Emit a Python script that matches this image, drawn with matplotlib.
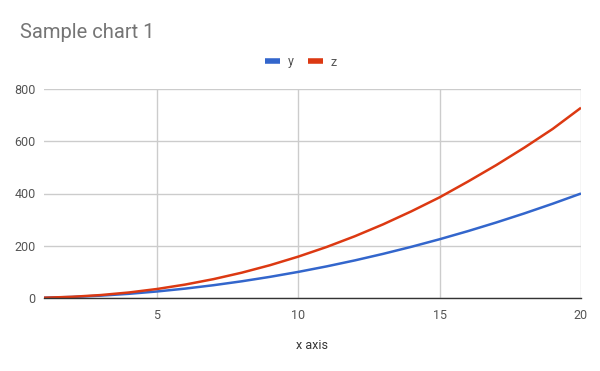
import matplotlib
matplotlib.use("Agg")
import matplotlib.pyplot as plt

x = list(range(1, 21))
y = [1, 4, 9, 16, 25, 36, 49, 64, 81, 100, 121, 144, 169, 196, 225, 256, 289, 324, 361, 400]
z = [1, 4.6, 11.2, 21.1, 34.5, 51.5, 72.3, 97.0, 125.7, 158.5, 195.3, 236.5, 282.0,
     331.9, 385.5, 445.7, 508.6, 575.9, 647.3, 728.2]
xticks = [5, 10, 15, 20]
yticks = [0, 200, 400, 600, 800]

plt.rcParams['font.family'] = ['Roboto', 'DejaVu Sans']
fig = plt.figure(figsize=(6, 3.71), dpi=100)
ax = fig.add_axes([44/600, 73/371, (581-44)/600, (298-89)/371])

ax.plot(x, y, color='#3366cc', lw=1.8, label='y', solid_capstyle='butt')
ax.plot(x, z, color='#dc3912', lw=1.8, label='z', solid_capstyle='butt')

ax.set_xlim(1, 20)
ax.set_ylim(0, 800)
ax.set_xticks(xticks)
ax.set_yticks(yticks)
ax.grid(True, color='#cccccc', lw=1)
ax.set_axisbelow(True)
for s in ['top', 'right', 'left']:
    ax.spines[s].set_visible(False)
ax.spines['bottom'].set_color('#333333')
ax.spines['bottom'].set_linewidth(1)
ax.tick_params(length=0, labelsize=9, labelcolor='#555555')
ax.tick_params(axis='x', pad=8)
ax.tick_params(axis='y', pad=6)
ax.set_xlabel('x axis', fontsize=9, color='#333333', labelpad=12)

fig.text(20/600, 1 - 32/371, 'Sample chart 1', fontsize=14.5, color='#757575', va='center', ha='left')
leg = fig.legend(loc='center', bbox_to_anchor=(301/600, 1 - 62/371), ncol=2, frameon=False,
                 fontsize=9, handlelength=1.2, handletextpad=0.6, columnspacing=1.2)
for t in leg.get_texts():
    t.set_color('#555555')
for l in leg.get_lines():
    l.set_linewidth(4)

fig.savefig('out.png', dpi=100)
